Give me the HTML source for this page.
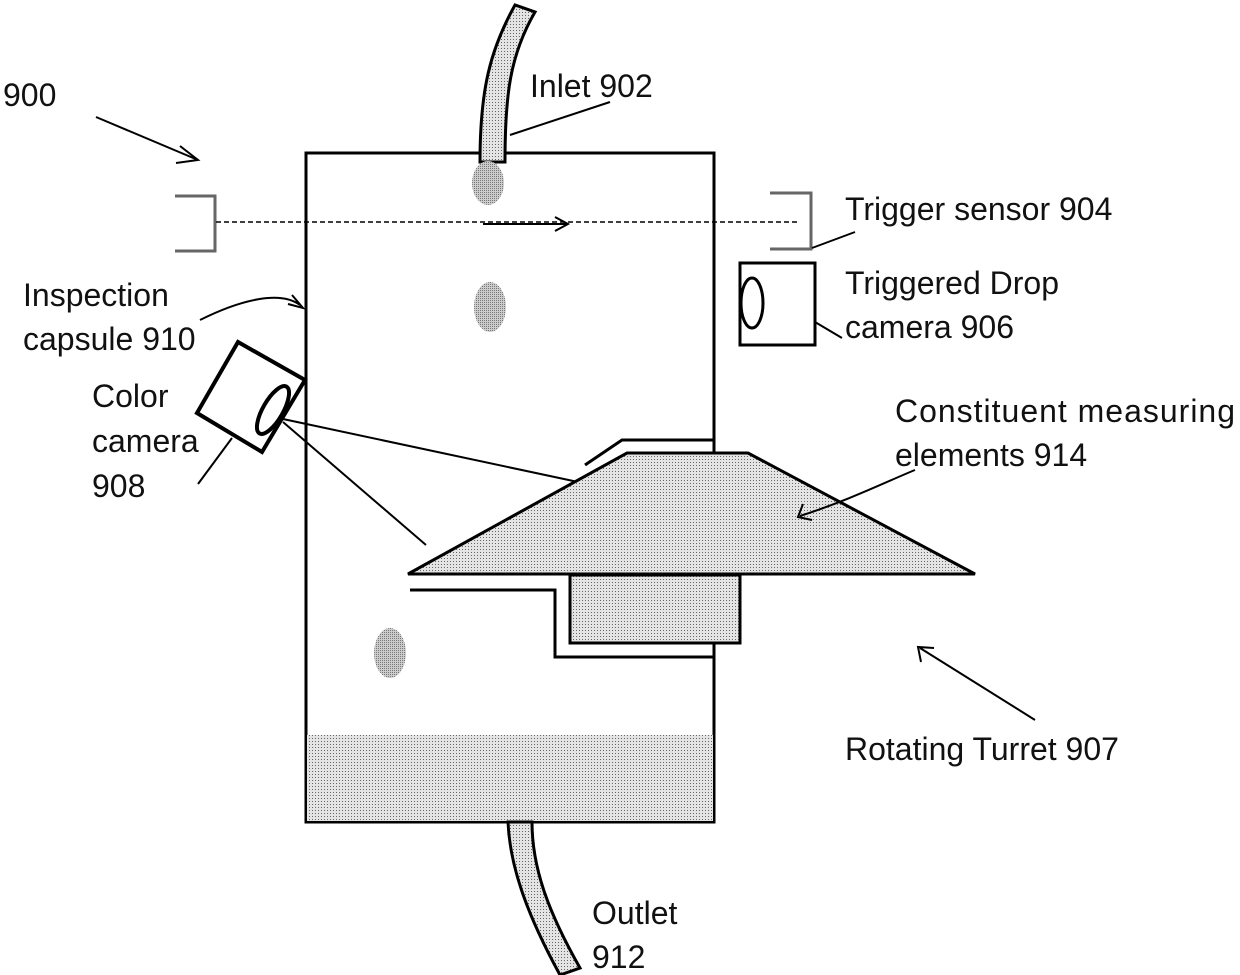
<!DOCTYPE html><html><head><style>body{margin:0;background:#fff}svg{display:block}text{font-family:"Liberation Sans",sans-serif;font-size:32px;fill:#111}</style></head><body>
<svg width="1240" height="975" viewBox="0 0 1240 975">
<defs><pattern id="d" width="3" height="3" patternUnits="userSpaceOnUse"><rect width="3" height="3" fill="#e4e4e4"/><rect width="1" height="1" fill="#666"/></pattern>
<pattern id="e" width="2" height="2" patternUnits="userSpaceOnUse"><rect width="2" height="2" fill="#ccc"/><rect width="1" height="1" fill="#777"/></pattern></defs>
<g fill="none" stroke="#000">
<rect x="306" y="153" width="408" height="669" stroke-width="3" fill="#fff"/>
<rect x="307" y="735" width="406" height="86" fill="url(#d)" stroke="none"/>
<path d="M480 162 C480 90 490 50 515 5 L535 12 C510 55 505 95 505 162 Z" fill="url(#d)" stroke-width="3"/>
<path d="M508 822 C510 870 530 920 560 975 L580 968 C550 915 532 870 532 822 Z" fill="url(#d)" stroke-width="3"/>
<ellipse cx="488" cy="183" rx="16" ry="22" fill="url(#e)" stroke="none"/>
<ellipse cx="490" cy="307" rx="16" ry="25" fill="url(#e)" stroke="none"/>
<ellipse cx="390" cy="653" rx="16" ry="25" fill="url(#e)" stroke="none"/>
<path d="M175 196 H215 V251 H175" stroke="#666" stroke-width="3"/>
<path d="M770 193 H811 V249 H770" stroke="#666" stroke-width="3"/>
<line x1="216" y1="222" x2="800" y2="222" stroke-dasharray="5 3" stroke-width="1.5"/>
<path d="M483 224 H568 M555 217 L568 224 L555 231" stroke-width="2"/>
<path d="M96 117 L198 160 M180 146 L198 160 L176 163" stroke-width="2"/>
<path d="M510 135 L610 102" stroke-width="2"/>
<path d="M812 248 L855 232" stroke-width="2"/>
<path d="M200 320 C240 300 280 290 300 305 M292 295 L303 308 L288 304" stroke-width="2"/>
<rect x="740" y="263" width="75" height="82" stroke-width="3" fill="#fff"/>
<ellipse cx="752" cy="303" rx="11" ry="25" stroke-width="3"/>
<line x1="815" y1="322" x2="842" y2="338" stroke-width="2"/>
<polygon points="238,342 305,380 262,452 197,413" stroke-width="4" fill="#fff"/>
<ellipse cx="273" cy="410" rx="10" ry="27" transform="rotate(30 273 410)" stroke-width="4"/>
<line x1="232" y1="438" x2="198" y2="484" stroke-width="2"/>
<path d="M283 419 L578 482 M283 422 L426 545" stroke-width="2"/>
<path d="M585 465 L622 440 H714" stroke-width="3"/>
<path d="M410 590 H555 V657 H714" stroke-width="3"/>
<rect x="570" y="575" width="170" height="68" fill="url(#d)" stroke-width="3"/>
<polygon points="408,574 627,453 748,453 975,574" fill="url(#d)" stroke-width="3"/>
<path d="M800 516 C850 500 890 480 915 470 M803 504 L798 517 L812 520" stroke-width="2"/>
<path d="M1035 720 L920 648 M921 662 L918 647 L934 648" stroke-width="2"/>
</g>
<text x="3" y="106">900</text>
<text x="530" y="97">Inlet 902</text>
<text x="845" y="220">Trigger sensor 904</text>
<text x="845" y="294">Triggered Drop</text>
<text x="845" y="338">camera 906</text>
<text x="23" y="306">Inspection</text>
<text x="23" y="350">capsule 910</text>
<text x="92" y="407">Color</text>
<text x="92" y="452">camera</text>
<text x="92" y="497">908</text>
<text x="895" y="422" textLength="340">Constituent measuring</text>
<text x="895" y="466">elements 914</text>
<text x="845" y="760">Rotating Turret 907</text>
<text x="592" y="924">Outlet</text>
<text x="592" y="968">912</text>
</svg></body></html>
